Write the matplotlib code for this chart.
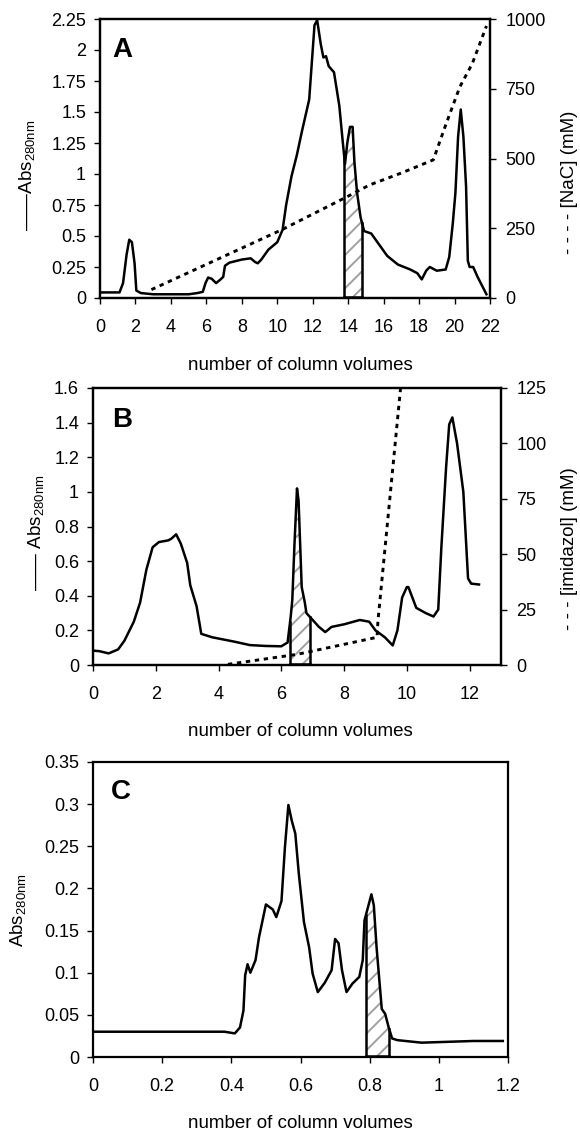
import numpy as np
import matplotlib
matplotlib.use("Agg")
import matplotlib.pyplot as plt

plt.rcParams['font.family'] = ['Liberation Sans', 'DejaVu Sans']
plt.rcParams['mathtext.fontset'] = 'custom'
plt.rcParams['mathtext.rm'] = 'Liberation Sans'
plt.rcParams['hatch.linewidth'] = 1.4
plt.rcParams['hatch.color'] = '#a0a0a0'

# ---------------------------
# Data
# ---------------------------
# Panel A: absorbance and NaCl gradient
a_cv = [0, 1.1, 1.3, 1.5, 1.65, 1.8, 1.95, 2.05, 2.3, 3.0, 4.0, 5.0, 5.5, 5.8, 5.95,
        6.1, 6.3, 6.55, 6.8, 6.95, 7.05, 7.3, 8.0, 8.5, 8.75, 8.9, 9.1, 9.5, 10.0,
        10.3, 10.5, 10.8, 11.1, 11.4, 11.8, 11.95, 12.1, 12.25, 12.45, 12.6, 12.75,
        12.9, 13.2, 13.5, 13.7, 13.82, 13.95, 14.1, 14.25, 14.35, 14.5, 14.7, 14.9,
        15.3, 15.7, 16.2, 16.8, 17.5, 17.9, 18.15, 18.4, 18.6, 19.0, 19.5, 19.7,
        19.9, 20.05, 20.2, 20.35, 20.5, 20.65, 20.75, 20.85, 21.05, 21.3, 21.8]
a_abs = [0.045, 0.045, 0.12, 0.35, 0.47, 0.45, 0.28, 0.06, 0.04, 0.03, 0.03, 0.03,
         0.04, 0.05, 0.12, 0.165, 0.155, 0.12, 0.15, 0.17, 0.26, 0.285, 0.31, 0.32,
         0.29, 0.28, 0.31, 0.39, 0.45, 0.55, 0.75, 0.98, 1.15, 1.35, 1.6, 1.9, 2.2,
         2.24, 2.05, 1.94, 1.95, 1.87, 1.82, 1.55, 1.25, 1.08, 1.25, 1.38, 1.38, 1.1,
         0.85, 0.65, 0.54, 0.52, 0.44, 0.34, 0.27, 0.23, 0.2, 0.15, 0.22, 0.25, 0.22,
         0.23, 0.33, 0.6, 0.85, 1.3, 1.52, 1.3, 0.9, 0.3, 0.25, 0.25, 0.17, 0.03]
a_salt_cv = [2.9, 10.3, 14.0, 15.2, 17.0, 18.8, 19.5, 20.3, 21.0, 21.8]
a_salt = [30, 246, 365, 405, 448, 495, 620, 757, 840, 975]
a_pool = (13.75, 14.78)

# Panel B: absorbance and imidazole gradient
b_cv = [0, 0.2, 0.5, 0.8, 1.0, 1.3, 1.5, 1.7, 1.9, 2.1, 2.4, 2.5, 2.65, 2.8, 3.0,
        3.1, 3.3, 3.45, 3.8, 4.5, 5.0, 5.5, 6.0, 6.2, 6.3, 6.35, 6.42, 6.5, 6.55,
        6.6, 6.65, 6.75, 6.8, 7.0, 7.2, 7.4, 7.6, 8.0, 8.5, 8.8, 9.0, 9.3, 9.55,
        9.7, 9.85, 10.0, 10.05, 10.3, 10.6, 10.85, 11.0, 11.1, 11.25, 11.35, 11.45,
        11.6, 11.8, 11.95, 12.05, 12.3]
b_abs = [0.083, 0.08, 0.067, 0.09, 0.14, 0.25, 0.36, 0.55, 0.68, 0.71, 0.72, 0.73,
         0.755, 0.70, 0.59, 0.46, 0.34, 0.18, 0.16, 0.135, 0.115, 0.11, 0.108, 0.13,
         0.28, 0.375, 0.7, 1.02, 0.95, 0.7, 0.45, 0.36, 0.30, 0.26, 0.22, 0.19, 0.22,
         0.235, 0.26, 0.25, 0.2, 0.16, 0.113, 0.2, 0.39, 0.45, 0.45, 0.33, 0.30, 0.28,
         0.32, 0.68, 1.14, 1.39, 1.43, 1.28, 1.0, 0.5, 0.47, 0.465]
b_imid_cv = [4.3, 6.5, 9.05, 9.08, 9.8]
b_imid = [0.3, 4.8, 12.5, 20, 125]
b_pool = (6.28, 6.91)

# Panel C: absorbance only
c_cv = [0, 0.38, 0.41, 0.425, 0.435, 0.44, 0.447, 0.455, 0.47, 0.48, 0.5, 0.52, 0.53,
        0.545, 0.555, 0.565, 0.575, 0.585, 0.595, 0.61, 0.625, 0.635, 0.65, 0.67,
        0.69, 0.7, 0.71, 0.72, 0.733, 0.75, 0.77, 0.78, 0.785, 0.805, 0.812, 0.82,
        0.835, 0.845, 0.855, 0.865, 0.88, 0.95, 1.1, 1.185]
c_abs = [0.03, 0.03, 0.028, 0.035, 0.055, 0.097, 0.11, 0.10, 0.115, 0.142, 0.181,
         0.175, 0.166, 0.185, 0.249, 0.299, 0.28, 0.265, 0.218, 0.16, 0.13, 0.099,
         0.077, 0.088, 0.103, 0.14, 0.135, 0.103, 0.077, 0.087, 0.095, 0.115, 0.162,
         0.193, 0.18, 0.13, 0.057, 0.051, 0.035, 0.022, 0.02, 0.017, 0.019, 0.019]
c_pool = (0.789, 0.856)

W, H = 580, 1132
fig = plt.figure(figsize=(W / 100, H / 100), dpi=100)

def px_axes(left, right, top, bottom):
    return fig.add_axes([left / W, 1 - bottom / H, (right - left) / W, (bottom - top) / H])

def style(ax):
    for s in ax.spines.values():
        s.set_linewidth(1.6)
    ax.tick_params(direction='out', length=4, width=1.0, labelsize=13)
    ax.tick_params(axis='x', pad=11)
    ax.tick_params(axis='y', pad=6)

def pool(ax, x, y, lims):
    # hatched fraction that was pooled
    xs = np.linspace(lims[0], lims[1], 60)
    ys = np.interp(xs, x, y)
    ax.fill_between(xs, 0, ys, facecolor='white', hatch='//', edgecolor='#a0a0a0',
                    linewidth=0, zorder=2)
    for xv, yv in ((xs[0], ys[0]), (xs[-1], ys[-1])):
        ax.plot([xv, xv], [0, yv], color='black', lw=1.8, zorder=3)
    ax.plot([xs[0], xs[-1]], [0.004 * ax.get_ylim()[1]] * 2, color='black', lw=1.8, zorder=3)

dash = dict(color='black', lw=2.1, dashes=(1.5, 1.6))
LW = 1.8

# ---------------------------
# Panel A
# ---------------------------
axA = px_axes(100, 490, 19, 298)
axA.set_xlim(0, 22)
axA.set_ylim(0, 2.25)
axA.set_xticks(range(0, 23, 2))
axA.set_yticks([0, 0.25, 0.5, 0.75, 1, 1.25, 1.5, 1.75, 2, 2.25])
axA.set_yticklabels(['0', '0.25', '0.5', '0.75', '1', '1.25', '1.5', '1.75', '2', '2.25'])
style(axA)
pool(axA, a_cv, a_abs, a_pool)
axA.plot(a_cv, a_abs, color='black', lw=LW, zorder=4)
axA2 = axA.twinx()
axA2.set_ylim(0, 1000)
axA2.set_yticks([0, 250, 500, 750, 1000])
style(axA2)
axA2.tick_params(axis='y', pad=7)
axA2.plot(a_salt_cv, a_salt, **dash)
axA.text(0.056, 0.889, 'A', transform=axA.transAxes, fontsize=20, fontweight='bold',
         ha='center', va='center')

# ---------------------------
# Panel B
# ---------------------------
axB = px_axes(93, 501, 388, 665)
axB.set_xlim(0, 13.0)
axB.set_ylim(0, 1.6)
axB.set_xticks(range(0, 13, 2))
axB.set_yticks([0, 0.2, 0.4, 0.6, 0.8, 1, 1.2, 1.4, 1.6])
axB.set_yticklabels(['0', '0.2', '0.4', '0.6', '0.8', '1', '1.2', '1.4', '1.6'])
style(axB)
pool(axB, b_cv, b_abs, b_pool)
axB.plot(b_cv, b_abs, color='black', lw=LW, zorder=4)
axB2 = axB.twinx()
axB2.set_ylim(0, 125)
axB2.set_yticks([0, 25, 50, 75, 100, 125])
style(axB2)
axB2.tick_params(axis='y', pad=7)
axB2.plot(b_imid_cv, b_imid, **dash)
axB.text(0.071, 0.884, 'B', transform=axB.transAxes, fontsize=20, fontweight='bold',
         ha='center', va='center')

# ---------------------------
# Panel C
# ---------------------------
axC = px_axes(93, 508, 762, 1057)
axC.set_xlim(0, 1.2)
axC.set_ylim(0, 0.35)
axC.set_xticks([0, 0.2, 0.4, 0.6, 0.8, 1, 1.2])
axC.set_xticklabels(['0', '0.2', '0.4', '0.6', '0.8', '1', '1.2'])
axC.set_yticks([0, 0.05, 0.1, 0.15, 0.2, 0.25, 0.3, 0.35])
axC.set_yticklabels(['0', '0.05', '0.1', '0.15', '0.2', '0.25', '0.3', '0.35'])
style(axC)
pool(axC, c_cv, c_abs, c_pool)
axC.plot(c_cv, c_abs, color='black', lw=LW, zorder=4)
axC.text(0.067, 0.898, 'C', transform=axC.transAxes, fontsize=20, fontweight='bold',
         ha='center', va='center')

# ---------------------------
# Axis titles
# ---------------------------
def ftext(x, y, s, **kw):
    fig.text(x / W, 1 - y / H, s, ha='center', va='center', fontsize=13.5, **kw)

abs_lbl = r'Abs$_{\mathregular{280nm}}$'
for y in (365, 732, 1123):
    ftext(300, y, 'number of column volumes')
ftext(28, 175, '——' + abs_lbl, rotation=90)
ftext(569, 182, '- - - - [NaC] (mM)', rotation=90)
ftext(37, 533, '—— ' + abs_lbl, rotation=90)
ftext(570, 549, '- - - [imidazol] (mM)', rotation=90)
ftext(19, 910, abs_lbl, rotation=90)

fig.savefig('out.png', dpi=100)
